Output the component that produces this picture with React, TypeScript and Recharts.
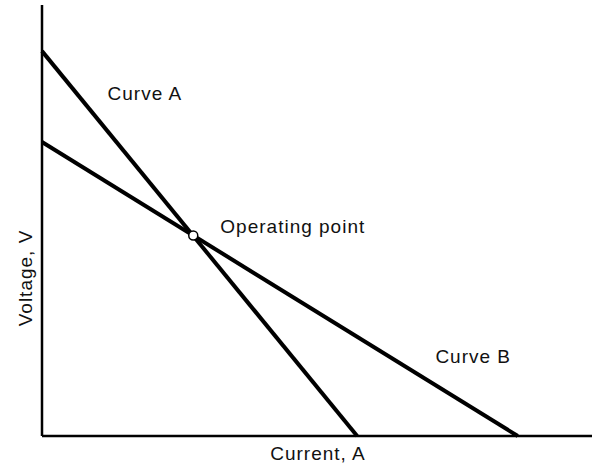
import { LineChart, Line, XAxis, YAxis, ReferenceDot, Label } from "recharts";

// straight load lines, current (x) vs voltage (y), arbitrary 0-100 units
const curveA = [
  { x: 0, y: 89.3 },
  { x: 57.3, y: 0 },
];

const curveB = [
  { x: 0, y: 68.2 },
  { x: 86.5, y: 0 },
];

const operatingPoint = { x: 27.5, y: 46.5 };

const annotations = [
  { text: "Curve A", x: 18.7, y: 78.0 },
  { text: "Operating point", x: 45.6, y: 47.1 },
  { text: "Curve B", x: 78.4, y: 16.9 },
];

const FONT = "'Liberation Sans', Arial, Helvetica, sans-serif";

const textStyle = {
  fontFamily: FONT,
  fontSize: 19,
  letterSpacing: 1,
  fill: "#111",
};

const App = () => {
  return (
    <div style={{ position: "absolute", left: 0, top: 0, background: "#fff" }}>
      <LineChart
        width={594}
        height={470}
        margin={{ top: 5, right: 2, bottom: 0, left: 0 }}
      >
        <XAxis
          type="number"
          dataKey="x"
          domain={[0, 100]}
          allowDuplicatedCategory={false}
          height={34}
          tick={false}
          tickLine={false}
          axisLine={{ stroke: "#000", strokeWidth: 2.5 }}
        >
          <Label
            content={({ viewBox }: any) => (
              <text
                x={viewBox.x + viewBox.width / 2 + 1}
                y={viewBox.y + 24}
                textAnchor="middle"
                style={textStyle}
              >
                Current, A
              </text>
            )}
          />
        </XAxis>
        <YAxis
          type="number"
          dataKey="y"
          domain={[0, 100]}
          width={42}
          tick={false}
          tickLine={false}
          axisLine={{ stroke: "#000", strokeWidth: 2.5 }}
        >
          <Label
            content={({ viewBox }: any) => {
              const cx = 32;
              const cy = viewBox.y + 273;
              return (
                <text
                  x={cx}
                  y={cy}
                  textAnchor="middle"
                  transform={`rotate(-90 ${cx} ${cy})`}
                  style={textStyle}
                >
                  Voltage, V
                </text>
              );
            }}
          />
        </YAxis>
        <Line
          data={curveA}
          dataKey="y"
          stroke="#000"
          strokeWidth={4}
          dot={false}
          activeDot={false}
          isAnimationActive={false}
        />
        <Line
          data={curveB}
          dataKey="y"
          stroke="#000"
          strokeWidth={4}
          dot={false}
          activeDot={false}
          isAnimationActive={false}
        />
        <ReferenceDot
          x={operatingPoint.x}
          y={operatingPoint.y}
          r={4.5}
          fill="#fff"
          stroke="#000"
          strokeWidth={1.5}
        />
        {annotations.map((a) => (
          <ReferenceDot
            key={a.text}
            x={a.x}
            y={a.y}
            r={0}
            shape={(p: any) => (
              <text x={p.cx} y={p.cy} textAnchor="middle" style={textStyle}>
                {a.text}
              </text>
            )}
          />
        ))}
      </LineChart>
    </div>
  );
};

export default App;
